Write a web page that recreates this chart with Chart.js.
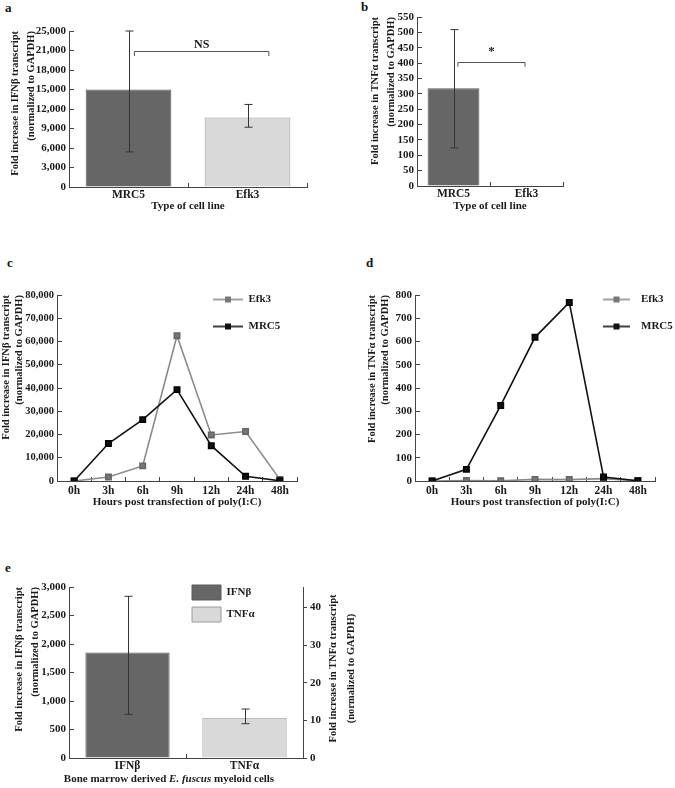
<!DOCTYPE html>
<html>
<head>
<meta charset="utf-8">
<script src="https://cdn.jsdelivr.net/npm/chart.js@4.4.1/dist/chart.umd.min.js"></script>
<style>
  body { margin: 0; background: #fff; }
  #page { position: relative; width: 675px; height: 788px; overflow: hidden; }
  .panel { position: absolute; }
  .tag { position: absolute; font: bold 13px 'Liberation Serif', serif; color: #111; }
</style>
</head>
<body>
<div id="page">
  <div class="tag" style="left:5px;top:0px">a</div>
  <div class="tag" style="left:361px;top:-1px">b</div>
  <div class="tag" style="left:7px;top:255px">c</div>
  <div class="tag" style="left:366px;top:255px">d</div>
  <div class="tag" style="left:5px;top:560px">e</div>

  <div class="panel" style="left:0;top:0;width:340px;height:222px"><canvas id="chartA"></canvas></div>
  <div class="panel" style="left:340px;top:0;width:335px;height:222px"><canvas id="chartB"></canvas></div>
  <div class="panel" style="left:0;top:270px;width:340px;height:250px"><canvas id="chartC"></canvas></div>
  <div class="panel" style="left:340px;top:270px;width:335px;height:250px"><canvas id="chartD"></canvas></div>
  <div class="panel" style="left:0;top:530px;width:370px;height:258px"><canvas id="chartE"></canvas></div>
</div>

<script>
// ---- data ----
var cellLines = ["MRC5", "Efk3"];

var ifnbA = [15000, 10700];
var ifnbALow = [5400, 9200];
var ifnbAHigh = [24000, 12700];
var yTicksA = ["0", "3,000", "6,000", "9,000", "12,000", "15,000", "18,000", "21,000", "25,000"];

var tnfB = [318, 2];
var tnfBLow = [124, null];
var tnfBHigh = [509, null];

var hours = ["0h", "3h", "6h", "9h", "12h", "24h", "48h"];
var ifnbEfk3 = [0, 1700, 6500, 62500, 19800, 21300, 700];
var ifnbMrc5 = [0, 16100, 26400, 39300, 15200, 2000, 100];
var tnfEfk3 = [0, 2, 1, 7, 6, 10, 1];
var tnfMrc5 = [0, 50, 325, 618, 768, 17, 1];

var cytokines = ["IFNβ", "TNFα"];
var bmIfnb = [1850, null];
var bmIfnbLow = [767, null];
var bmIfnbHigh = [2837, null];
var bmTnf = [null, 10.7];
var bmTnfLow = [null, 9.1];
var bmTnfHigh = [null, 13.0];

var titleIfnb = ["Fold increase in IFNβ transcript", "(normalized to GAPDH)"];
var titleTnf = ["Fold increase in TNFα transcript", "(normalized to GAPDH)"];

// ---- style ----
var SERIF = "'Liberation Serif', 'Times New Roman', serif";
var DARK = "#666666";
var LIGHT = "#d9d9d9";
var AXIS = "#444444";
var INK = "#1a1a1a";

Chart.defaults.font.family = SERIF;
Chart.defaults.font.weight = "bold";
Chart.defaults.color = INK;
Chart.defaults.animation = false;

function fixWidth(w) { return function(s) { s.width = w; }; }
function fixHeight(h) { return function(s) { s.height = h; }; }

function yAxis(width, title, titlePad, lh, extra) {
    var o = {
        position: "left",
        afterFit: fixWidth(width),
        border: { color: AXIS, width: 1 },
        grid: { drawOnChartArea: false, color: AXIS, tickLength: -5 },
        title: { display: !!title, text: title, align: "end", color: INK,
                 font: { size: 10.5, weight: "bold", lineHeight: lh },
                 padding: { top: titlePad, bottom: 0 } }
    };
    return Object.assign(o, extra || {});
}

function yTicks(step, cb, size) {
    var t = { font: { size: size || 11, weight: "bold" }, padding: 8, color: INK, stepSize: step, autoSkip: false };
    if (cb) t.callback = cb;
    return t;
}

function xAxis(height, title, titlePad, tickPad, extra) {
    var o = {
        afterFit: fixHeight(height),
        border: { color: AXIS, width: 1 },
        grid: { drawOnChartArea: false, color: AXIS, tickLength: -4, offset: true },
        ticks: { font: { size: 11.5, weight: "bold" }, padding: tickPad, color: INK, autoSkip: false },
        title: { display: !!title, text: title, font: { size: 11, weight: "bold" }, padding: { top: 0, bottom: titlePad }, color: INK }
    };
    return Object.assign(o, extra || {});
}

// error bars drawn from the value arrays through the chart's scales
var errorBars = {
    id: "errorBars",
    afterDatasetsDraw: function(chart, args, opts) {
        if (!opts.sets) return;
        var ctx = chart.ctx;
        ctx.save();
        ctx.strokeStyle = "#333";
        ctx.lineWidth = 1;
        opts.sets.forEach(function(set) {
            var meta = chart.getDatasetMeta(set.dataset);
            var ys = chart.scales[meta.yAxisID];
            meta.data.forEach(function(bar, i) {
                if (set.low[i] == null) return;
                var x = Math.round(bar.x) + 0.5;
                var y1 = ys.getPixelForValue(set.low[i]);
                var y2 = ys.getPixelForValue(set.high[i]);
                ctx.beginPath();
                ctx.moveTo(x, y1); ctx.lineTo(x, y2);
                ctx.moveTo(x - 4, y1); ctx.lineTo(x + 4, y1);
                ctx.moveTo(x - 4, y2); ctx.lineTo(x + 4, y2);
                ctx.stroke();
            });
        });
        ctx.restore();
    }
};

// significance bracket
var bracket = {
    id: "bracket",
    afterDatasetsDraw: function(chart, args, o) {
        if (o.y == null) return;
        var xs = chart.scales.x, ys = chart.scales.y, ctx = chart.ctx;
        var x1 = xs.getPixelForValue(o.from), x2 = xs.getPixelForValue(o.to);
        var y = Math.round(ys.getPixelForValue(o.y)) + 0.5;
        var yd = ys.getPixelForValue(o.y - o.drop);
        ctx.save();
        ctx.strokeStyle = "#555";
        ctx.lineWidth = 1;
        ctx.beginPath();
        ctx.moveTo(x1, yd); ctx.lineTo(x1, y); ctx.lineTo(x2, y); ctx.lineTo(x2, yd);
        ctx.stroke();
        ctx.fillStyle = INK;
        ctx.font = "bold " + o.size + "px " + SERIF;
        ctx.textAlign = "center";
        ctx.textBaseline = "bottom";
        ctx.fillText(o.label, (x1 + x2) / 2, y - o.gap);
        ctx.restore();
    }
};

// move the chartArea legend to a spot inside the plot
var placeLegend = {
    id: "placeLegend",
    afterLayout: function(chart, args, o) {
        var lg = chart.legend;
        if (!lg || o.dx == null) return;
        var pad = chart.options.plugins.legend.labels.padding;
        var w = lg.width, h = lg.height;
        lg.left = chart.chartArea.left + o.dx - pad;
        lg.top = chart.chartArea.top + o.dy - pad;
        lg.right = lg.left + w;
        lg.bottom = lg.top + h;
    }
};

Chart.register(errorBars, bracket, placeLegend);

function lineSample(color, marker, w) {
    var c = document.createElement("canvas");
    c.width = w; c.height = 8;
    var g = c.getContext("2d");
    g.strokeStyle = color; g.lineWidth = 1.6;
    g.beginPath(); g.moveTo(0, 4); g.lineTo(w, 4); g.stroke();
    g.fillStyle = marker;
    g.fillRect(w / 2 - 3, 1, 6, 6);
    return c;
}

// ---- a ----
new Chart(document.getElementById("chartA"), {
    type: "bar",
    data: {
        labels: cellLines,
        datasets: [{
            data: ifnbA,
            backgroundColor: [DARK, LIGHT],
            borderColor: ["#5a5a5a", "#9a9a9a"],
            borderWidth: 1,
            barPercentage: 0.72,
            categoryPercentage: 1
        }]
    },
    options: {
        responsive: true, maintainAspectRatio: false,
        layout: { padding: { top: 31, right: 33, bottom: 0, left: 0 } },
        scales: {
            x: xAxis(35, "Type of cell line", 9, 5),
            y: yAxis(69, titleIfnb, 8, 1.45, {
                min: 0, max: 24000,
                ticks: yTicks(3000, function(v, i) { return yTicksA[i]; })
            })
        },
        plugins: {
            legend: { display: false }, tooltip: { enabled: false },
            errorBars: { sets: [{ dataset: 0, low: ifnbALow, high: ifnbAHigh }] },
            bracket: { from: 0.05, to: 1.18, y: 20970, drop: 820, label: "NS", size: 12, gap: 1 }
        }
    }
});

// ---- b ----
new Chart(document.getElementById("chartB"), {
    type: "bar",
    data: {
        labels: cellLines,
        datasets: [{
            data: tnfB,
            backgroundColor: [DARK, LIGHT],
            borderColor: ["#5a5a5a", "#8a8a8a"],
            borderWidth: 1,
            barPercentage: 0.71,
            categoryPercentage: 1
        }]
    },
    options: {
        responsive: true, maintainAspectRatio: false,
        layout: { padding: { top: 17, right: 112, bottom: 0, left: 0 } },
        scales: {
            x: xAxis(36, "Type of cell line", 9, 5),
            y: yAxis(77, titleTnf, 27, 1.55, {
                min: 0, max: 550,
                ticks: yTicks(50)
            })
        },
        plugins: {
            legend: { display: false }, tooltip: { enabled: false },
            errorBars: { sets: [{ dataset: 0, low: tnfBLow, high: tnfBHigh }] },
            bracket: { from: 0.06, to: 0.98, y: 403, drop: 15, label: "*", size: 13, gap: 4 }
        }
    }
});

// ---- c and d ----
function timeCourse(id, efk3, mrc5, yTitle, yWidth, yMax, yStep, tickSize, titlePad, lh, padRight, legendDx, boxW, sampleW) {
    new Chart(document.getElementById(id), {
        type: "line",
        data: {
            labels: hours,
            datasets: [
                { label: "Efk3", data: efk3, borderColor: "#8a8a8a", backgroundColor: "#777",
                  pointBackgroundColor: "#777", pointBorderColor: "#666", borderWidth: 1.6,
                  pointStyle: "rect", pointRadius: 3.8, order: 1 },
                { label: "MRC5", data: mrc5, borderColor: "#111", backgroundColor: "#111",
                  pointBackgroundColor: "#111", pointBorderColor: "#000", borderWidth: 1.6,
                  pointStyle: "rect", pointRadius: 3.8, order: 0 }
            ]
        },
        options: {
            responsive: true, maintainAspectRatio: false,
            layout: { padding: { top: 25, right: padRight, bottom: 0, left: 0 } },
            scales: {
                x: xAxis(39, "Hours post transfection of poly(I:C)", 11, 7, { offset: true }),
                y: yAxis(yWidth, yTitle, titlePad, lh, {
                    min: 0, max: yMax,
                    ticks: yTicks(yStep, null, tickSize)
                })
            },
            plugins: {
                tooltip: { enabled: false },
                legend: {
                    position: "chartArea", align: "start",
                    labels: {
                        usePointStyle: true, pointStyleWidth: boxW, padding: 16, color: INK,
                        font: { size: 11, weight: "bold" },
                        generateLabels: function(chart) {
                            return chart.data.datasets.map(function(ds, i) {
                                return { text: ds.label, datasetIndex: i, hidden: false, lineWidth: 0,
                                         fontColor: INK, pointStyle: lineSample(ds.borderColor, ds.pointBackgroundColor, sampleW) };
                            });
                        }
                    }
                },
                placeLegend: { dx: legendDx, dy: -1 }
            }
        }
    });
}

timeCourse("chartC", ifnbEfk3, ifnbMrc5, titleIfnb, 57, 80000, 10000, 10.5, 0, 1.25, 43, 156, 30, 30);
timeCourse("chartD", tnfEfk3, tnfMrc5, titleTnf, 75, 800, 100, 11, 25, 1.3, 20, 182.5, 38, 27);

// ---- e ----
var titleE = [["Bone marrow derived ", "bold"], ["E. fuscus", "italic bold"], [" myeloid cells", "bold"]];

var eTitles = {
    id: "eTitles",
    afterDraw: function(chart) {
        var ctx = chart.ctx, a = chart.chartArea, r = chart.scales.y1;
        ctx.save();
        ctx.fillStyle = INK;
        ctx.textBaseline = "middle";
        // x title with italic species name
        var widths = titleE.map(function(p) { ctx.font = p[1] + " 11px " + SERIF; return ctx.measureText(p[0]).width; });
        var total = widths.reduce(function(s, w) { return s + w; }, 0);
        var x = a.left + 100 - total / 2, y = a.bottom + 21.5;
        titleE.forEach(function(p, i) { ctx.font = p[1] + " 11px " + SERIF; ctx.textAlign = "left"; ctx.fillText(p[0], x, y); x += widths[i]; });
        // right axis title, read bottom to top
        ctx.font = "bold 10.5px " + SERIF;
        ctx.textAlign = "center";
        var cy = (a.top + a.bottom) / 2 - 4;
        titleTnf.forEach(function(t, i) {
            ctx.save();
            ctx.translate(r.left + 30 + i * 18.5, cy);
            ctx.rotate(-Math.PI / 2);
            ctx.fillText(t, 0, 0);
            ctx.restore();
        });
        ctx.restore();
    }
};

new Chart(document.getElementById("chartE"), {
    type: "bar",
    data: {
        labels: cytokines,
        datasets: [
            { label: "IFNβ", data: bmIfnb, yAxisID: "y", backgroundColor: DARK, borderColor: "#5a5a5a",
              borderWidth: 1, barPercentage: 0.72, categoryPercentage: 1, grouped: false },
            { label: "TNFα", data: bmTnf, yAxisID: "y1", backgroundColor: LIGHT, borderColor: "#9a9a9a",
              borderWidth: 1, barPercentage: 0.72, categoryPercentage: 1, grouped: false }
        ]
    },
    options: {
        responsive: true, maintainAspectRatio: false,
        layout: { padding: { top: 57, right: 0, bottom: 0, left: 0 } },
        scales: {
            x: xAxis(30, "", 0, 5),
            y: yAxis(69, titleIfnb, 12, 1.45, {
                min: 0, max: 3000,
                ticks: yTicks(500)
            }),
            y1: {
                position: "right", min: 0, max: 45.4,
                afterFit: fixWidth(67),
                border: { color: AXIS, width: 1 },
                grid: { drawOnChartArea: false, color: AXIS, tickLength: 4 },
                ticks: { font: { size: 11, weight: "bold" }, padding: 3, color: INK, stepSize: 10, includeBounds: false }
            }
        },
        plugins: {
            tooltip: { enabled: false },
            legend: {
                position: "chartArea", align: "start",
                labels: { boxWidth: 29, boxHeight: 15, padding: 7, color: INK, font: { size: 11, weight: "bold" } }
            },
            placeLegend: { dx: 123, dy: -2 },
            errorBars: { sets: [{ dataset: 0, low: bmIfnbLow, high: bmIfnbHigh }, { dataset: 1, low: bmTnfLow, high: bmTnfHigh }] }
        }
    },
    plugins: [eTitles]
});
</script>
</body>
</html>
